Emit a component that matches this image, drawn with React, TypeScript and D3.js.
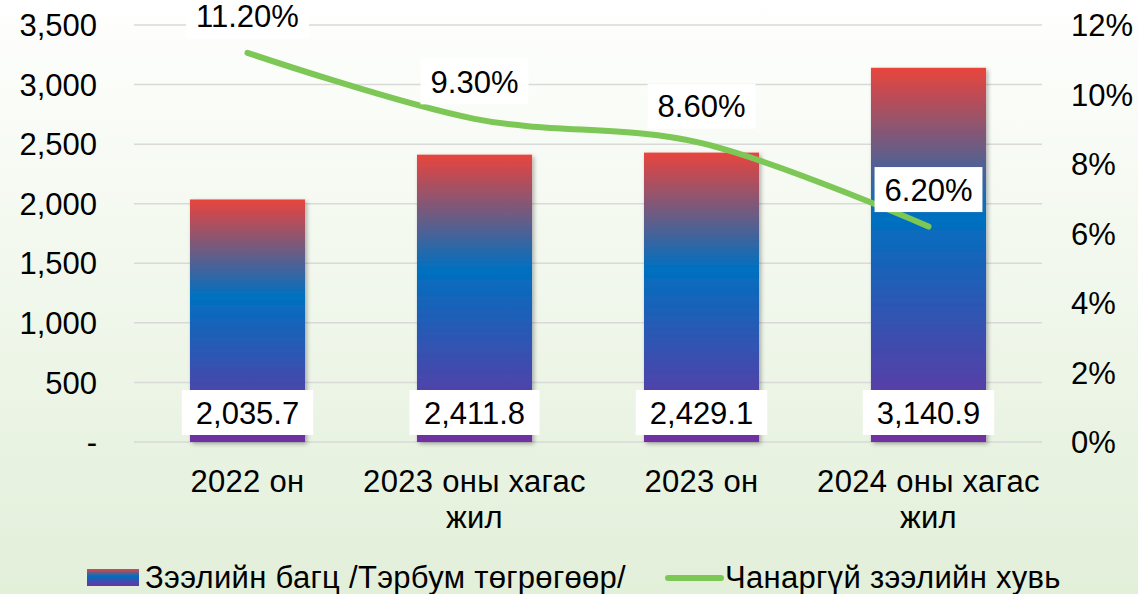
import React from "react";
import * as d3 from "d3";

const categories: string[][] = [["2022 он"], ["2023 оны хагас", "жил"], ["2023 он"], ["2024 оны хагас", "жил"]];
const loanValues = [2035.7, 2411.8, 2429.1, 3140.9];
const nplRates = [11.2, 9.3, 8.6, 6.2];
const leftTicks = [0, 500, 1000, 1500, 2000, 2500, 3000, 3500];
const rightTicks = [0, 2, 4, 6, 8, 10, 12];
const seriesNames = ["Зээлийн багц /Тэрбум төгрөгөөр/", "Чанаргүй зээлийн хувь"];

const W = 1138;
const H = 594;
const FONT = "'Liberation Sans', Arial, sans-serif";
const FS = 31;
const CYR_LS = 0.3;

function measure(text: string, size = FS): number {
  const c = document.createElement("canvas").getContext("2d");
  if (!c) return text.length * size * 0.55;
  c.font = `${size}px ${FONT}`;
  return c.measureText(text).width;
}

export default function App() {
  const x = d3.scaleBand<number>().domain(d3.range(categories.length)).range([134, 1042]).paddingInner(0).paddingOuter(0);
  const yL = d3.scaleLinear().domain([0, 3500]).range([442, 25]);
  const yR = d3.scaleLinear().domain([0, 12]).range([442, 25]);
  const barW = x.bandwidth() * 0.507;
  const cx = (i: number) => (x(i) as number) + x.bandwidth() / 2;

  const line = d3
    .line<number>()
    .x((_, i) => cx(i))
    .y((d) => yR(d))
    .curve(d3.curveCatmullRom.alpha(0));

  const fmtL = (v: number) => (v === 0 ? "-" : d3.format(",")(v));
  const fmtBar = d3.format(",.1f");
  const fmtPct = (v: number) => v.toFixed(2) + "%";

  return (
    <svg width={W} height={H} style={{ position: "absolute", left: 0, top: 0, display: "block" }} fontFamily={FONT}>
      <defs>
        <linearGradient id="bg" x1="0" y1="0" x2="0" y2="1">
          <stop offset="0" stopColor="#FFFFFF" />
          <stop offset="0.05" stopColor="#FDFEFC" />
          <stop offset="1" stopColor="#E2EFD9" />
        </linearGradient>
        <linearGradient id="barGrad" x1="0" y1="0" x2="0" y2="1">
          <stop offset="0" stopColor="#E9443D" />
          <stop offset="0.4" stopColor="#0070C0" />
          <stop offset="1" stopColor="#7030A0" />
        </linearGradient>
        <filter id="shadow" x="-10%" y="-10%" width="130%" height="130%">
          <feDropShadow dx="2" dy="2" stdDeviation="2" floodColor="#000" floodOpacity="0.3" />
        </filter>
      </defs>
      <rect x={0} y={0} width={W} height={H} fill="url(#bg)" />

      {leftTicks.map((t) => (
        <line key={t} x1={134} x2={1042} y1={yL(t)} y2={yL(t)} stroke="#D9D9D9" strokeWidth={1.5} />
      ))}

      {leftTicks.map((t) => (
        <text key={"l" + t} x={97} y={yL(t)} dy="0.36em" textAnchor="end" fontSize={FS} fill="#000">
          {fmtL(t)}
        </text>
      ))}
      {rightTicks.map((t) => (
        <text key={"r" + t} x={1071} y={yR(t)} dy="0.36em" textAnchor="start" fontSize={FS} fill="#000">
          {t + "%"}
        </text>
      ))}

      {loanValues.map((v, i) => (
        <rect
          key={"b" + i}
          x={cx(i) - barW / 2}
          y={yL(v)}
          width={barW}
          height={yL(0) - yL(v)}
          fill="url(#barGrad)"
          filter="url(#shadow)"
        />
      ))}

      <path d={line(nplRates) || ""} fill="none" stroke="#7CC756" strokeWidth={6} strokeLinecap="round" strokeLinejoin="round" />

      {loanValues.map((v, i) => {
        const t = fmtBar(v);
        const w = Math.max(measure(t) + 28, 130);
        return (
          <g key={"bl" + i}>
            <rect x={cx(i) - w / 2} y={390} width={w} height={45} fill="#FFFFFF" />
            <text x={cx(i)} y={412.5} dy="0.36em" textAnchor="middle" fontSize={FS} fill="#000">
              {t}
            </text>
          </g>
        );
      })}

      {nplRates.map((v, i) => {
        const t = fmtPct(v);
        const w = measure(t) + 20;
        const yc = yR(v) - 37;
        return (
          <g key={"pl" + i}>
            <rect x={cx(i) - w / 2} y={yc - 22.5} width={w} height={45} fill="#FFFFFF" />
            <text x={cx(i)} y={yc} dy="0.36em" textAnchor="middle" fontSize={FS} fill="#000">
              {t}
            </text>
          </g>
        );
      })}

      {categories.map((lines, i) => (
        <text key={"c" + i} x={cx(i)} y={492} textAnchor="middle" fontSize={FS} fill="#000" letterSpacing={CYR_LS}>
          {lines.map((l, j) => (
            <tspan key={j} x={cx(i)} dy={j === 0 ? 0 : 36}>
              {l}
            </tspan>
          ))}
        </text>
      ))}

      <g>
        <rect x={87} y={569} width={52} height={17} fill="url(#barGrad)" />
        <text x={145} y={588} fontSize={FS} fill="#000" letterSpacing={CYR_LS}>
          {seriesNames[0]}
        </text>
        <line x1={668} x2={721} y1={578} y2={578} stroke="#7CC756" strokeWidth={6} strokeLinecap="round" />
        <text x={725} y={588} fontSize={FS} fill="#000" letterSpacing={CYR_LS}>
          {seriesNames[1]}
        </text>
      </g>
    </svg>
  );
}
